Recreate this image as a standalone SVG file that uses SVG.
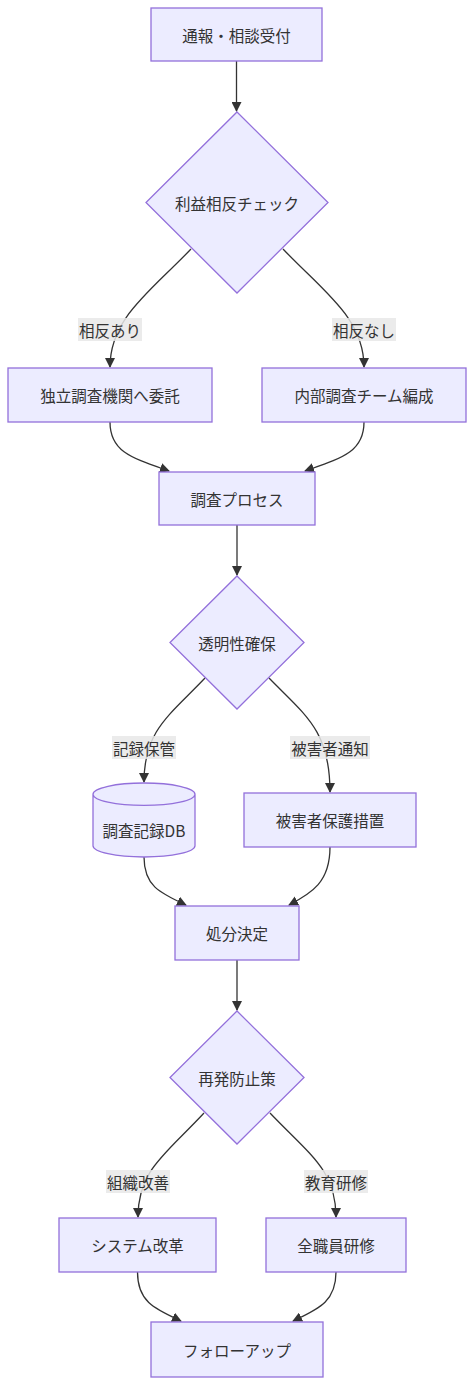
<svg xmlns="http://www.w3.org/2000/svg" width="474" height="1385" viewBox="0 0 474 1385">
<defs>
<style>
.n rect,.n polygon,.n path{fill:#ECECFF;stroke:#9370DB;stroke-width:1.3}
text{font-family:"Noto Sans CJK JP","Noto Sans",sans-serif;font-size:15.5px;fill:#333;text-anchor:middle;dominant-baseline:central}
.e path{fill:none;stroke:#333;stroke-width:1.3}
.lb rect{fill:#e8e8e8;fill-opacity:0.85;stroke:none}
</style>
<marker id="ar" viewBox="0 0 10 10" refX="9" refY="5" markerUnits="userSpaceOnUse" markerWidth="10" markerHeight="10" orient="auto">
<path d="M0,0 L10,5 L0,10 z" fill="#333"/>
</marker>
</defs>
<rect width="474" height="1385" fill="#fff"/>
<g class="e" id="edges">
<path d="M236.5,61 L236.5,111" marker-end="url(#ar)"/>
<path d="M191,249 C150,292 110,318 110,367" marker-end="url(#ar)"/>
<path d="M283,249 C324,292 364,318 364,367" marker-end="url(#ar)"/>
<path d="M110,422 C110,452 132,458 169,471" marker-end="url(#ar)"/>
<path d="M364,422 C364,452 342,458 305,471" marker-end="url(#ar)"/>
<path d="M237,525 L237,575" marker-end="url(#ar)"/>
<path d="M205,678 C170,715 144,730 144,782" marker-end="url(#ar)"/>
<path d="M269,678 C305,715 330,730 330,792" marker-end="url(#ar)"/>
<path d="M144,857 C144,886 160,893 186,905" marker-end="url(#ar)"/>
<path d="M330,847 C330,882 312,893 289,905" marker-end="url(#ar)"/>
<path d="M237,960 L237,1010" marker-end="url(#ar)"/>
<path d="M204,1113 C165,1155 138,1170 138,1217" marker-end="url(#ar)"/>
<path d="M270,1113 C310,1155 336,1170 336,1217" marker-end="url(#ar)"/>
<path d="M137.5,1272 C137.5,1302 155,1309 181,1321" marker-end="url(#ar)"/>
<path d="M336,1272 C336,1302 318,1309 293,1321" marker-end="url(#ar)"/>
</g>
<g class="lb" id="edge-labels">
<rect x="78" y="318" width="64" height="23"/><text x="110" y="329.5">相反あり</text>
<rect x="332" y="318" width="64" height="23"/><text x="364" y="329.5">相反なし</text>
<rect x="112" y="736" width="64" height="23"/><text x="144" y="747.5">記録保管</text>
<rect x="290" y="736" width="80" height="23"/><text x="330" y="747.5">被害者通知</text>
<rect x="106" y="1170" width="64" height="23"/><text x="138" y="1181.5">組織改善</text>
<rect x="304" y="1170" width="64" height="23"/><text x="336" y="1181.5">教育研修</text>
</g>
<g class="n" id="n1"><rect x="151" y="8" width="171" height="53"/><text x="236.5" y="35">通報・相談受付</text></g>
<g class="n" id="n2"><polygon points="237,112 328,202.5 237,293 146,202.5"/><text x="237" y="202.5">利益相反チェック</text></g>
<g class="n" id="n3"><rect x="8" y="368" width="204" height="54"/><text x="110" y="395">独立調査機関へ委託</text></g>
<g class="n" id="n4"><rect x="262" y="368" width="204" height="54"/><text x="364" y="395">内部調査チーム編成</text></g>
<g class="n" id="n5"><rect x="159" y="472" width="156" height="53"/><text x="237" y="498.5">調査プロセス</text></g>
<g class="n" id="n6"><polygon points="237,576 304,642.5 237,709 170,642.5"/><text x="237" y="642.5">透明性確保</text></g>
<g class="n" id="n7"><path d="M93,794.2 a51,11.2 0 0 0 102,0 a51,11.2 0 0 0 -102,0 l0,51.6 a51,11.2 0 0 0 102,0 l0,-51.6"/><text x="144" y="830">調査記録DB</text></g>
<g class="n" id="n8"><rect x="244" y="793" width="172" height="54"/><text x="330" y="820">被害者保護措置</text></g>
<g class="n" id="n9"><rect x="175" y="906" width="124" height="54"/><text x="237" y="933">処分決定</text></g>
<g class="n" id="n10"><polygon points="237,1011 304,1077.5 237,1144 170,1077.5"/><text x="237" y="1077.5">再発防止策</text></g>
<g class="n" id="n11"><rect x="59" y="1218" width="157" height="54"/><text x="137.5" y="1245">システム改革</text></g>
<g class="n" id="n12"><rect x="266" y="1218" width="140" height="54"/><text x="336" y="1245">全職員研修</text></g>
<g class="n" id="n13"><rect x="151" y="1322" width="172" height="55"/><text x="237" y="1349.5">フォローアップ</text></g>
</svg>
